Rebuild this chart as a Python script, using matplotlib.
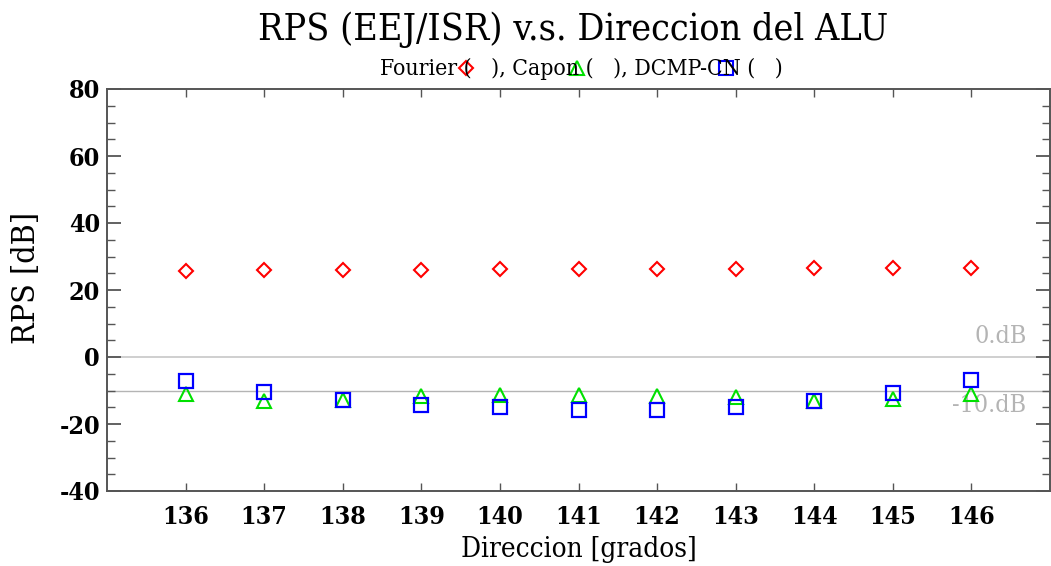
import numpy as np
import matplotlib
matplotlib.use("Agg")
import matplotlib.pyplot as plt
from matplotlib.lines import Line2D
from matplotlib.ticker import MultipleLocator

plt.rcParams["axes.unicode_minus"] = False

# direction of the ALU (degrees) and RPS values in dB
direccion = [136, 137, 138, 139, 140, 141, 142, 143, 144, 145, 146]
fourier = [25.8, 25.9, 26.0, 26.1, 26.2, 26.3, 26.4, 26.4, 26.5, 26.5, 26.5]
capon = [-11.0, -13.2, -12.7, -11.7, -11.2, -11.2, -11.5, -12.0, -13.0, -12.5, -11.0]
dcmp_cn = [-7.3, -10.3, -12.7, -14.2, -15.0, -15.8, -15.8, -14.8, -13.0, -10.8, -6.8]
ref_levels = [0, -10]
ref_labels = ["0.dB", "-10.dB"]

font = {"family": "DejaVu Serif", "stretch": "condensed"}
spine_col = "#555555"

fig = plt.figure(figsize=(10.51, 5.66), dpi=100)
ax = fig.add_axes([107 / 1051, 75 / 566, 943 / 1051, 402 / 566])

# reference lines at 0 dB and -10 dB
ax.axhline(ref_levels[0], color="#cccccc", lw=1.3, zorder=1)
ax.axhline(ref_levels[1], color="#b4b4b4", lw=1.0, zorder=1)
ax.text(146.7, ref_levels[0] + 6, ref_labels[0], color="#b4b4b4", ha="right",
        va="center", fontsize=18, **font)
ax.text(146.7, ref_levels[1] - 4.5, ref_labels[1], color="#b4b4b4", ha="right",
        va="center", fontsize=18, **font)

ax.plot(direccion, fourier, ls="none", marker="D", ms=7.2, mfc="none", mec="red",
        mew=1.5, zorder=3)
ax.plot(direccion, capon, ls="none", marker="^", ms=10, mfc="none", mec="#00e000",
        mew=1.5, zorder=3)
ax.plot(direccion, dcmp_cn, ls="none", marker="s", ms=10, mfc="none", mec="blue",
        mew=1.6, zorder=4)

ax.set_xlim(135, 147)
ax.set_ylim(-40, 80)
ax.set_xticks(direccion)
ax.yaxis.set_major_locator(MultipleLocator(20))
ax.yaxis.set_minor_locator(MultipleLocator(5))
ax.tick_params(axis="x", which="major", direction="in", length=6, width=1,
               top=True, color=spine_col, pad=10)
ax.tick_params(axis="y", which="major", direction="in", length=10, width=1.3,
               right=True, color=spine_col, pad=5)
ax.tick_params(axis="y", which="minor", direction="in", length=6, width=1,
               right=True, color=spine_col)
for lab in ax.get_xticklabels() + ax.get_yticklabels():
    lab.set_fontsize(18)
    lab.set_fontweight("bold")
    lab.set_fontfamily(font["family"])
    lab.set_fontstretch(font["stretch"])
for s in ax.spines.values():
    s.set_color(spine_col)
    s.set_linewidth(1.4)

ax.set_xlabel("Direccion [grados]", fontsize=20, labelpad=5, **font)
ax.set_ylabel("RPS [dB]", fontsize=23, labelpad=6, **font)
ax.yaxis.set_label_coords(-0.069, 0.53)

fig.text(0.545, 0.947, "RPS (EEJ/ISR) v.s. Direccion del ALU", ha="center",
         va="center", fontsize=27, **font)
fig.text(0.553, 1 - 69 / 566, "Fourier (   ), Capon (   ), DCMP-CN (   )", ha="center",
         va="center", fontsize=16.5, **font)
# legend symbols drawn over the subtitle
for x, m, c, ms in [(466, "D", "red", 7.2), (577, "^", "#00e000", 10), (726, "s", "blue", 10)]:
    fig.add_artist(Line2D([x / 1051], [1 - 68 / 566], transform=fig.transFigure,
                          ls="none", marker=m, ms=ms, mfc="none", mec=c, mew=1.5))

fig.savefig("out.png", dpi=100)
